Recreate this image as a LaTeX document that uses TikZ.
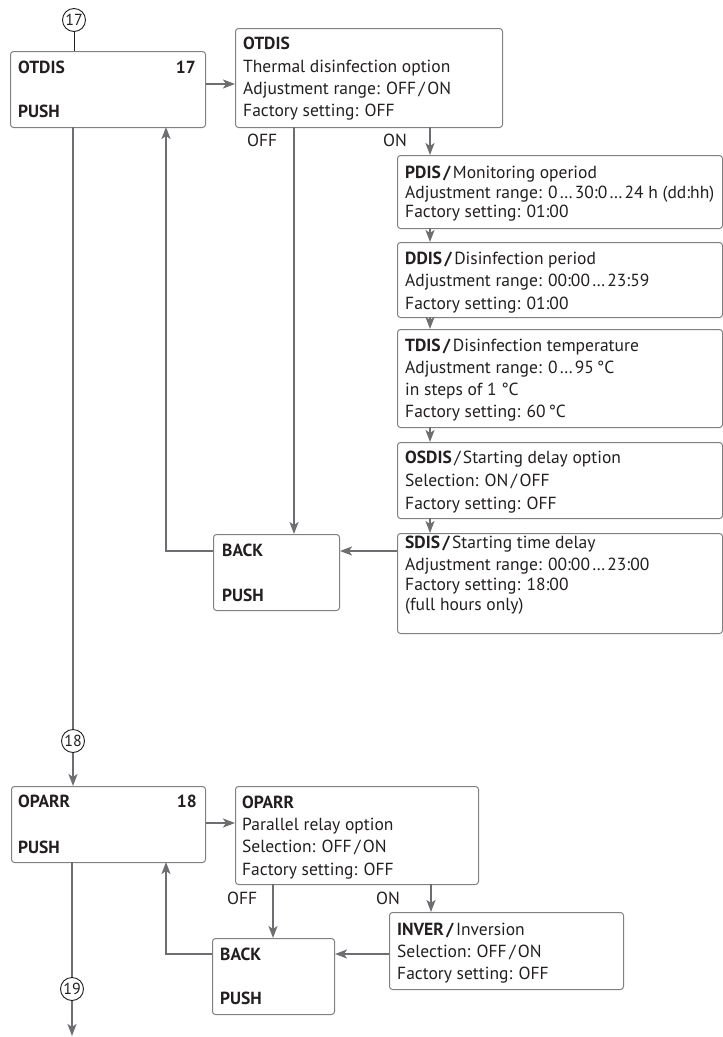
\documentclass[tikz,border=0pt]{standalone}
\usepackage{fontspec}
\setmainfont{PT Sans}
\usetikzlibrary{arrows.meta}
\definecolor{linegray}{HTML}{6D6E71}
\definecolor{boxgray}{HTML}{808080}
\definecolor{txtcol}{HTML}{231F20}
\newcommand{\slsep}{\kern2.5pt/\kern2.5pt}
\newcommand{\dts}{\kern2pt…\kern2pt}
\tikzset{
  conn/.style={draw=linegray, line width=2pt},
  arr/.style={conn, -{Stealth[length=12pt,width=9pt,inset=3pt]}},
  box/.style={draw=boxgray, line width=1pt, rounded corners=3pt, inner sep=0pt, anchor=north west, fill=white},
  txt/.style={inner sep=0pt, anchor=base west, text=txtcol, font=\fontsize{17.5}{20}\selectfont},
  txtr/.style={txt, anchor=base east},
  circ/.style={draw=txtcol, line width=0.9pt, circle, minimum size=23pt, inner sep=0pt, text=txtcol, font=\fontsize{16}{18}\selectfont, fill=white}
}
\begin{document}
\begin{tikzpicture}[x=1pt,y=-1pt]
\useasboundingbox (0,0) rectangle (723,1037);
% ---------- section 17 ----------
\node[box, minimum width=195pt, minimum height=76pt] (A) at (10,51) {};
\node[box, minimum width=267pt, minimum height=99pt] (B) at (235,28) {};
\node[circ] (c17) at (74,20) {17};
\draw[draw=txtcol, line width=0.9pt] (c17.south) -- (c17.south |- A.north);
\node[txt] (a1) at (18,73) {\bfseries OTDIS};
\node[txtr] (a2) at (196,73) {\bfseries 17};
\node[txt] (a3) at (18,117) {\bfseries PUSH};
\node[txt] (b1) at (243,49) {\bfseries OTDIS};
\node[txt] (b2) at (243,72) {Thermal disinfection option};
\node[txt] (b3) at (243,94) {Adjustment range: OFF\slsep ON};
\node[txt] (b4) at (243,116) {Factory setting: OFF};
\node[txt] (off1) at (247,146) {OFF};
\node[txt] (on1) at (383,146) {ON};

\node[box, minimum width=325pt, minimum height=73pt] (P) at (397,155) {};
\node[txt] (p1) at (405,178) {\bfseries PDIS\slsep\mdseries Monitoring operiod};
\node[txt] (p2) at (405,198) {Adjustment range: 0\dts 30:0\dts 24 h (dd:hh)};
\node[txt] (p3) at (405,217) {Factory setting: 01:00};

\node[box, minimum width=325pt, minimum height=75pt] (D) at (397,242) {};
\node[txt] (d1) at (405,264) {\bfseries DDIS\slsep\mdseries Disinfection period};
\node[txt] (d2) at (405,286) {Adjustment range: 00:00\dts 23:59};
\node[txt] (d3) at (405,309) {Factory setting: 01:00};

\node[box, minimum width=325pt, minimum height=98pt] (T) at (397,329) {};
\node[txt] (t1) at (405,351) {\bfseries TDIS\slsep\mdseries Disinfection temperature};
\node[txt] (t2) at (405,373) {Adjustment range: 0\dts 95\,°C};
\node[txt] (t3) at (405,395) {in steps of 1 °C};
\node[txt] (t4) at (405,417) {Factory setting: 60\,°C};

\node[box, minimum width=325pt, minimum height=76pt] (O) at (397,442) {};
\node[txt] (o1) at (405,463) {\bfseries OSDIS\mdseries\slsep Starting delay option};
\node[txt] (o2) at (405,486) {Selection: ON\slsep OFF};
\node[txt] (o3) at (405,509) {Factory setting: OFF};

\node[box, minimum width=325pt, minimum height=100pt] (S) at (397,533) {};
\node[txt] (s1) at (405,548) {\bfseries SDIS\slsep\mdseries Starting time delay};
\node[txt] (s2) at (405,570) {Adjustment range: 00:00\dts 23:00};
\node[txt] (s3) at (405,590) {Factory setting: 18:00};
\node[txt] (s4) at (405,610) {(full hours only)};

\node[box, minimum width=126pt, minimum height=76pt] (K) at (213,534) {};
\node[txt] (k1) at (222,556) {\bfseries BACK};
\node[txt] (k2) at (222,601) {\bfseries PUSH};

\draw[arr] (A.east |- 0,84) -- (B.west |- 0,84);
\draw[arr] (294,127) -- (294,534);
\draw[arr] (430,127) -- (P.north -| 430,0);
\draw[arr] (430,228) -- (D.north -| 430,0);
\draw[arr] (430,317) -- (T.north -| 430,0);
\draw[arr] (430,427) -- (O.north -| 430,0);
\draw[arr] (430,518) -- (S.north -| 430,0);
\draw[arr] (S.west |- 0,551) -- (K.east |- 0,551);
\draw[arr] (K.west |- 0,551) -- (166,551) -- (166,127);

% ---------- section 18 ----------
\node[circ] (c18) at (73,741) {18};
\draw[conn] (73,127) -- (c18.north);
\node[box, minimum width=194pt, minimum height=76pt] (C) at (11,786) {};
\draw[arr] (c18.south) -- (C.north -| c18.south);
\node[txt] (c1) at (18,807) {\bfseries OPARR};
\node[txtr] (c2) at (197,807) {\bfseries 18};
\node[txt] (c3) at (18,853) {\bfseries PUSH};

\node[box, minimum width=243pt, minimum height=98pt] (E) at (235,786) {};
\node[txt] (e1) at (242,808) {\bfseries OPARR};
\node[txt] (e2) at (242,830) {Parallel relay option};
\node[txt] (e3) at (242,852) {Selection: OFF\slsep ON};
\node[txt] (e4) at (242,875) {Factory setting: OFF};
\node[txt] (off2) at (227,904) {OFF};
\node[txt] (on2) at (376,904) {ON};

\node[box, minimum width=234pt, minimum height=77pt] (I) at (389,912) {};
\node[txt] (i1) at (397,935) {\bfseries INVER\slsep\mdseries Inversion};
\node[txt] (i2) at (397,957) {Selection: OFF\slsep ON};
\node[txt] (i3) at (397,979) {Factory setting: OFF};

\node[box, minimum width=122pt, minimum height=76pt] (L) at (212,938) {};
\node[txt] (l1) at (220,960) {\bfseries BACK};
\node[txt] (l2) at (220,1004) {\bfseries PUSH};

\draw[arr] (C.east |- 0,823) -- (E.west |- 0,823);
\draw[arr] (273,884) -- (L.north -| 273,0);
\draw[arr] (431,884) -- (I.north -| 431,0);
\draw[arr] (I.west |- 0,954) -- (L.east |- 0,954);
\draw[arr] (L.west |- 0,954) -- (166,954) -- (166,862);

% ---------- section 19 ----------
\node[circ] (c19) at (72,989) {19};
\draw[conn] (72,862) -- (c19.north);
\coordinate (end19) at (72,1036);
\draw[arr] (c19.south) -- (end19);
\end{tikzpicture}
\end{document}
